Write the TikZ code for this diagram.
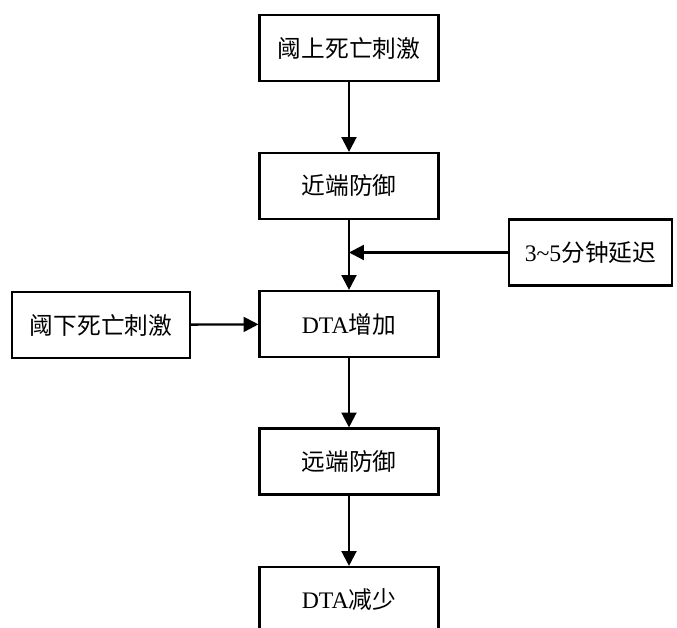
\documentclass[tikz,border=0pt]{standalone}
\usepackage{fontspec}
\setmainfont{Liberation Serif}
\newfontfamily\cjk{Noto Sans CJK SC}
\usetikzlibrary{arrows.meta}

\begin{document}
\begin{tikzpicture}[x=0.02cm,y=-0.02cm,>={Triangle[length=8.5pt,width=8.5pt]},
  box/.style={draw, line width=1.2pt, minimum height=1.32cm, inner sep=0pt,
    font=\fontsize{13.5}{15}\selectfont},
  mainbox/.style={box, minimum width=3.58cm},
  link/.style={->, line width=1.3pt}]

\useasboundingbox (0,0) rectangle (677,628);
\clip (0,0) rectangle (677,628);

%Hauptkette
\node[mainbox] (above) at (349,48) {\cjk 阈上死亡刺激};
\node[mainbox] (near) at (349,186) {\cjk 近端防御};
\node[mainbox] (incr) at (349,324) {DTA{\cjk 增加}};
\node[mainbox] (far) at (349,461.5) {\cjk 远端防御};
\node[mainbox] (decr) at (349,600) {DTA{\cjk 减少}};

%Seitenkaesten
\node[box, minimum width=3.56cm] (below) at (101,325) {\cjk 阈下死亡刺激};
\node[box, minimum width=3.26cm] (delay) at (590.5,252.5) {3\textasciitilde5{\cjk 分钟延迟}};
\coordinate (join) at (349,252.5);

%Pfeile
\draw[link] (above) -- (near);
\draw[link] (near) -- (incr);
\draw[link] (delay) -- (join);
\draw[link] (below) -- (incr);
\draw[link] (incr) -- (far);
\draw[link] (far) -- (decr);

\end{tikzpicture}
\end{document}
